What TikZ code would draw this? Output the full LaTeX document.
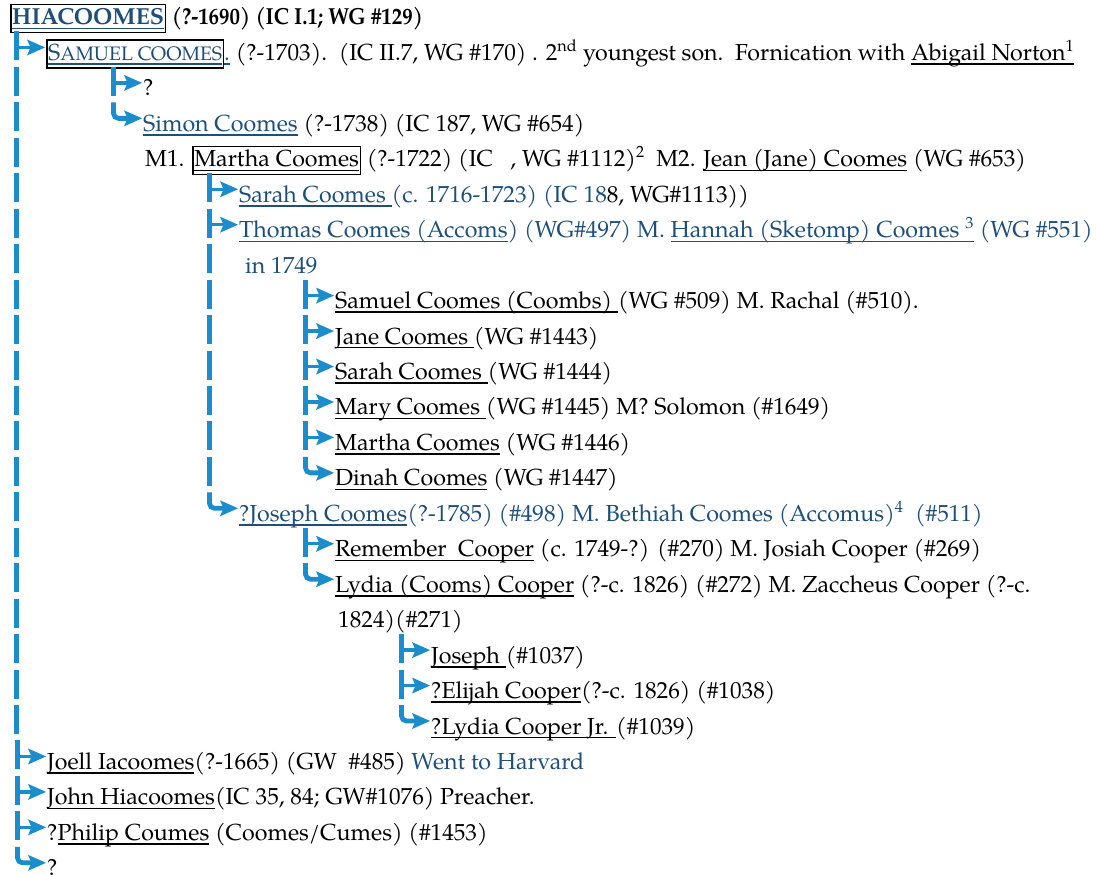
\documentclass[tikz,border=0pt]{standalone}
\usepackage{fontspec}
\usepackage{graphicx}
\setmainfont{TeX Gyre Pagella}
\usetikzlibrary{calc}
\definecolor{lnk}{RGB}{31,78,121}
\definecolor{icn}{RGB}{27,141,204}
\newcommand\uln[1]{\leavevmode\setbox0\hbox{#1}\rlap{\vrule height -2.8pt depth 4.4pt width \wd0}\box0{}}
\newcommand\bx[1]{{\setlength\fboxsep{0.5pt}\setlength\fboxrule{1.5pt}\fbox{\rule[-6.5pt]{0pt}{25.5pt}#1}}}
\newcommand\smc[1]{{\fontsize{19.5}{22}\selectfont #1}}
\newcommand\arrowhd{\fill[icn] ($(t)+(28.5,13)$) -- ++(-18,8) -- ++(3.5,-8) -- ++(-3.5,-8) -- cycle;}
\newcommand\tee[1]{%
  \coordinate (t) at ($(#1.base west)+(-29.5,0)$);
  \fill[icn] ($(t)+(-2.7,0)$) rectangle ($(t)+(2.7,29)$);
  \draw[icn,line width=3.4] ($(t)+(2,13)$) -- ($(t)+(15,13)$);
  \arrowhd}
\newcommand\elb[1]{%
  \coordinate (t) at ($(#1.base west)+(-29.5,0)$);
  \draw[icn,line width=4.8,rounded corners=5] ($(t)+(0,29)$) -- ($(t)+(0,13)$) -- ($(t)+(15,13)$);
  \arrowhd}
\newcommand\dsh[2]{%
  \coordinate (t) at ($(#1.base west)+(-29.5,0)$);
  \fill[icn] ($(t |- #2.base)+(-2.7,0)$) rectangle ($(t |- #2.base)+(2.7,29)$);}
\begin{document}
\begin{tikzpicture}[x=1pt,y=1pt,
  row/.style={anchor=base west,inner sep=0pt,font=\fontsize{23.2}{27}\selectfont}]
\fill[white] (0,0) rectangle (1096,-875);
\useasboundingbox (0,0) rectangle (1096,-875);
\node[row] (r1) at (10,-25) {\bx{\color{lnk}\uln{\textbf{HIACOOMES}}} \scalebox{0.9}[1]{\textbf{(?-1690) (IC I.1; WG \#129)}}};
\node[row] (r2) at (46,-60.45) {\bx{\color{lnk}\uln{S\smc{AMUEL COOMES}}}{\color{lnk}\uln{.}} (?-1703).\ \ (IC II.7, WG \#170) . 2\textsuperscript{nd} youngest son.\ \ Fornication with \uln{Abigail Norton\textsuperscript{1}}};
\node[row] (r3) at (143,-95.9) {?};
\node[row] (r4) at (143,-131.35) {{\color{lnk}\uln{Simon Coomes}} (?-1738) (IC 187, WG \#654)};
\node[row] (r5) at (145,-166.8) {M1. \bx{\uln{Martha Coomes}} (?-1722) (IC\ \ \ , WG \#1112)\textsuperscript{2}\ \ M2. \uln{Jean (Jane) Coomes} (WG \#653)};
\node[row] (r6) at (239,-202.25) {{\color{lnk}\uln{Sarah Coomes }(c. 1716-1723) (IC 18}8, WG\#1113))};
\node[row] (r7) at (239,-237.7) {\color{lnk}\uln{Thomas Coomes (Accoms}) (WG\#497) M. \uln{Hannah (Sketomp) Coomes \textsuperscript{3}} (WG \#551)};
\node[row] (r8) at (245,-273.15) {\color{lnk}in 1749};
\node[row] (r9) at (335,-308.6) {\uln{Samuel Coomes (Coombs) }(WG \#509) M. Rachal (\#510).};
\node[row] (r10) at (335,-344.05) {\uln{Jane Coomes }(WG \#1443)};
\node[row] (r11) at (335,-379.5) {\uln{Sarah Coomes }(WG \#1444)};
\node[row] (r12) at (335,-414.95) {\uln{Mary Coomes }(WG \#1445) M? Solomon (\#1649)};
\node[row] (r13) at (335,-450.4) {\uln{Martha Coomes} (WG \#1446)};
\node[row] (r14) at (335,-485.85) {\uln{Dinah Coomes} (WG \#1447)};
\node[row] (r15) at (239,-521.3) {\color{lnk}\uln{?Joseph Coomes}(?-1785) (\#498) M. Bethiah Coomes (Accomus)\textsuperscript{4}\ \ (\#511)};
\node[row] (r16) at (335,-556.75) {\uln{Remember\ \ Cooper} (c. 1749-?) (\#270) M. Josiah Cooper (\#269)};
\node[row] (r17) at (335,-592.2) {\uln{Lydia (Cooms) Cooper} (?-c. 1826) (\#272) M. Zaccheus Cooper (?-c.};
\node[row] (r18) at (338,-627.65) {1824)(\#271)};
\node[row] (r19) at (431,-663.1) {\uln{Joseph }(\#1037)};
\node[row] (r20) at (431,-698.55) {\uln{?Elijah Cooper}(?-c. 1826) (\#1038)};
\node[row] (r21) at (431,-734) {\uln{?Lydia Cooper Jr. }(\#1039)};
\node[row] (r22) at (47,-769.45) {\uln{Joell Iacoomes}(?-1665) (GW\ \ \#485) {\color{lnk}Went to Harvard}};
\node[row] (r23) at (47,-804.9) {\uln{John Hiacoomes}(IC 35, 84; GW\#1076) Preacher.};
\node[row] (r24) at (47,-840.35) {?\uln{Philip Coumes} (Coomes/Cumes) (\#1453)};
\node[row] (r25) at (47,-875.8) {?};
% icons
\tee{r2}
\tee{r3} \elb{r4}
\tee{r6} \tee{r7}
\tee{r9} \tee{r10} \tee{r11} \tee{r12} \tee{r13} \elb{r14}
\elb{r15}
\tee{r16} \elb{r17}
\tee{r19} \tee{r20} \elb{r21}
\tee{r22} \tee{r23} \tee{r24} \elb{r25}
% continuation dashes
\foreach \r in {r3,r4,r5,r6,r7,r8,r9,r10,r11,r12,r13,r14,r15,r16,r17,r18,r19,r20,r21} {\dsh{r2}{\r}}
\foreach \r in {r8,r9,r10,r11,r12,r13,r14} {\dsh{r6}{\r}}
\end{tikzpicture}
\end{document}
